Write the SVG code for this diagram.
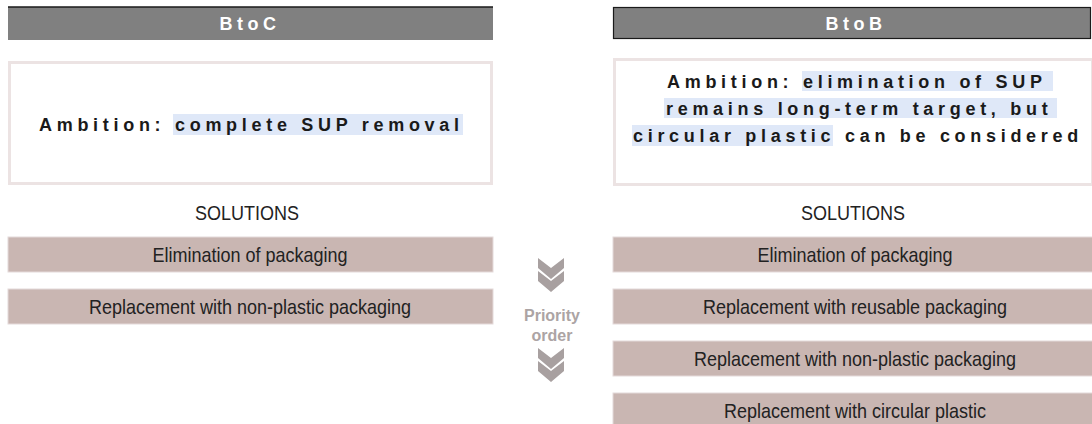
<svg xmlns="http://www.w3.org/2000/svg" width="1092" height="424" viewBox="0 0 1092 424">
<style>
.hdr{fill:#808080}
.hdrtxt{font-family:"Liberation Sans",Arial,sans-serif;font-weight:bold;font-size:18px;fill:#ffffff;letter-spacing:4.5px;text-anchor:middle}
.amb{fill:#ffffff;stroke:#ece3e3;stroke-width:3}
.hl{fill:#dfe8f8}
.ambtxt{font-family:"Liberation Sans",Arial,sans-serif;font-weight:bold;font-size:18px;fill:#1a1a1a;letter-spacing:4.7px}
.sol{font-family:"Liberation Sans",Arial,sans-serif;font-size:20px;fill:#222;text-anchor:middle}
.box{fill:#c9b6b2;stroke:#e4dada;stroke-width:1}
.boxtxt{font-family:"Liberation Sans",Arial,sans-serif;font-size:20px;fill:#222;text-anchor:middle}
.chev{fill:#a8a0a0}
.prio{font-family:"Liberation Sans",Arial,sans-serif;font-weight:bold;font-size:16px;fill:#aca4a4;text-anchor:middle}
</style>
<rect width="1092" height="424" fill="#ffffff"/>

<g id="btoc-header">
<rect class="hdr" x="8" y="7" width="485" height="33"/>
<line x1="8" y1="7" x2="493" y2="7" stroke="#1a1a1a" stroke-width="1.5"/>
<text class="hdrtxt" x="250" y="30">BtoC</text>
</g>

<g id="btob-header">
<rect class="hdr" x="613.5" y="7.5" width="477" height="31" stroke="#1a1a1a" stroke-width="1.2"/>
<text class="hdrtxt" x="856" y="29.5">BtoB</text>
</g>

<g id="btoc-ambition">
<rect class="amb" x="9.5" y="62.5" width="482" height="121"/>
<rect class="hl" x="173" y="114" width="290" height="21"/>
<text class="ambtxt" x="39" y="131">Ambition: complete SUP removal</text>
</g>

<g id="btob-ambition">
<rect class="amb" x="614.5" y="59.5" width="478" height="125"/>
<rect class="hl" x="802" y="71" width="251" height="20"/>
<rect class="hl" x="664" y="98" width="393" height="20"/>
<rect class="hl" x="632" y="125" width="201" height="21"/>
<text class="ambtxt" x="667" y="87.5">Ambition: elimination of SUP</text>
<text class="ambtxt" x="666" y="114.5">remains long-term target, but</text>
<text class="ambtxt" x="633" y="142">circular plastic can be considered</text>
</g>

<g id="btoc-solutions-label"><text class="sol" transform="translate(247 220) scale(0.9 1)">SOLUTIONS</text></g>
<g id="btob-solutions-label"><text class="sol" transform="translate(853 220) scale(0.9 1)">SOLUTIONS</text></g>

<g id="btoc-sol-1">
<rect class="box" x="8" y="237" width="485" height="35"/>
<text class="boxtxt" transform="translate(250 261.5) scale(0.9 1)">Elimination of packaging</text>
</g>
<g id="btoc-sol-2">
<rect class="box" x="8" y="289" width="485" height="35"/>
<text class="boxtxt" transform="translate(250 313.5) scale(0.9 1)">Replacement with non-plastic packaging</text>
</g>

<g id="btob-sol-1">
<rect class="box" x="613" y="237" width="480" height="35"/>
<text class="boxtxt" transform="translate(855 261.5) scale(0.9 1)">Elimination of packaging</text>
</g>
<g id="btob-sol-2">
<rect class="box" x="613" y="289" width="480" height="35"/>
<text class="boxtxt" transform="translate(855 313.5) scale(0.9 1)">Replacement with reusable packaging</text>
</g>
<g id="btob-sol-3">
<rect class="box" x="613" y="341" width="480" height="35"/>
<text class="boxtxt" transform="translate(855 365.5) scale(0.9 1)">Replacement with non-plastic packaging</text>
</g>
<g id="btob-sol-4">
<rect class="box" x="613" y="393" width="480" height="35"/>
<text class="boxtxt" transform="translate(855 417.5) scale(0.9 1)">Replacement with circular plastic</text>
</g>

<g id="priority">
<path class="chev" d="M538,258 L551,268 L564,258 L564,268 L551,279 L538,268 Z"/>
<path class="chev" d="M538,271 L551,281 L564,271 L564,281 L551,292 L538,281 Z"/>
<text class="prio" x="552" y="321">Priority</text>
<text class="prio" x="552" y="341">order</text>
<path class="chev" d="M538,348 L551,358 L564,348 L564,358 L551,369 L538,358 Z"/>
<path class="chev" d="M538,361 L551,371 L564,361 L564,371 L551,382 L538,371 Z"/>
</g>
</svg>
